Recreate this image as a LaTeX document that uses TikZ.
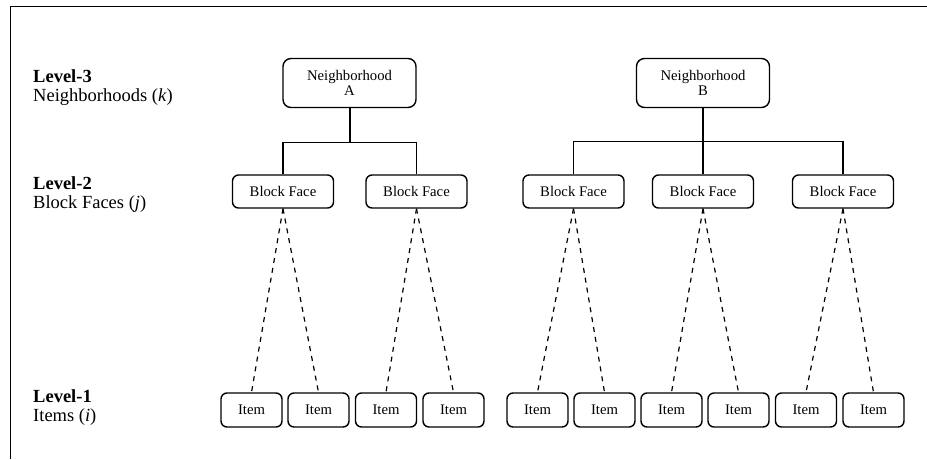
\documentclass[tikz,border=0pt]{standalone}
\usepackage{fontspec}
\setmainfont{Liberation Serif}
\begin{document}
\begin{tikzpicture}[x=1pt,y=-1pt,
  box/.style={draw, line width=1.4pt, rounded corners=6pt, inner sep=0pt, align=center,
    font=\fontsize{14.7}{15}\selectfont},
  nbox/.style={box, rounded corners=8pt, minimum width=133pt, minimum height=49pt},
  bfbox/.style={box, minimum width=101pt, minimum height=33pt},
  itbox/.style={box, minimum width=61pt, minimum height=34pt},
  trunk/.style={line width=2pt},
  branch/.style={line width=1.3pt},
  dashline/.style={line width=1.2pt, dash pattern=on 5pt off 5pt},
  lvl/.style={anchor=base west, inner sep=0pt, font=\fontsize{18.5}{19}\selectfont},
  frame/.style={line width=1pt}]
\useasboundingbox (0,0) rectangle (927,459);
\draw[frame] (927,6) -- (10,6) -- (10,459);

% level labels
\node[lvl] (l3a) at (33,82) {\textbf{Level-3}};
\node[lvl] (l3b) at (33,101) {Neighborhoods (\textit{k})};
\node[lvl] (l2a) at (33,189) {\textbf{Level-2}};
\node[lvl] (l2b) at (33,208) {Block Faces (\textit{j})};
\node[lvl] (l1a) at (33,402) {\textbf{Level-1}};
\node[lvl] (l1b) at (33,421) {Items (\textit{i})};

% neighborhoods
\node[nbox] (nA) at (349.5,83) {Neighborhood\\A};
\node[nbox] (nB) at (703,83) {Neighborhood\\B};

% block faces
\node[bfbox] (bf1) at (283,191.5) {Block Face};
\node[bfbox] (bf2) at (416.5,191.5) {Block Face};
\node[bfbox] (bf3) at (573.5,191.5) {Block Face};
\node[bfbox] (bf4) at (703,191.5) {Block Face};
\node[bfbox] (bf5) at (843,191.5) {Block Face};

% items
\node[itbox] (i1) at (251.5,410) {Item};
\node[itbox] (i2) at (318.5,410) {Item};
\node[itbox] (i3) at (386,410) {Item};
\node[itbox] (i4) at (453.5,410) {Item};
\node[itbox] (i5) at (537.5,410) {Item};
\node[itbox] (i6) at (604.5,410) {Item};
\node[itbox] (i7) at (671.5,410) {Item};
\node[itbox] (i8) at (738.5,410) {Item};
\node[itbox] (i9) at (806,410) {Item};
\node[itbox] (i10) at (873.5,410) {Item};

% solid tree connectors
\draw[trunk] (nA.south) -- ++(0,34.5) coordinate (jA);
\draw[trunk] (nB.south) -- ++(0,33.5) coordinate (jB);
\draw[branch] (bf1.north) |- (jA) -| (bf2.north);
\draw[branch] (bf3.north) |- (jB) -| (bf5.north);
\draw[branch] (jB) -- (bf4.north);

% dashed connectors
\draw[dashline] (bf1.south) -- (i1.north);
\draw[dashline] (bf1.south) -- (i2.north);
\draw[dashline] (bf2.south) -- (i3.north);
\draw[dashline] (bf2.south) -- (i4.north);
\draw[dashline] (bf3.south) -- (i5.north);
\draw[dashline] (bf3.south) -- (i6.north);
\draw[dashline] (bf4.south) -- (i7.north);
\draw[dashline] (bf4.south) -- (i8.north);
\draw[dashline] (bf5.south) -- (i9.north);
\draw[dashline] (bf5.south) -- (i10.north);
\end{tikzpicture}
\end{document}
